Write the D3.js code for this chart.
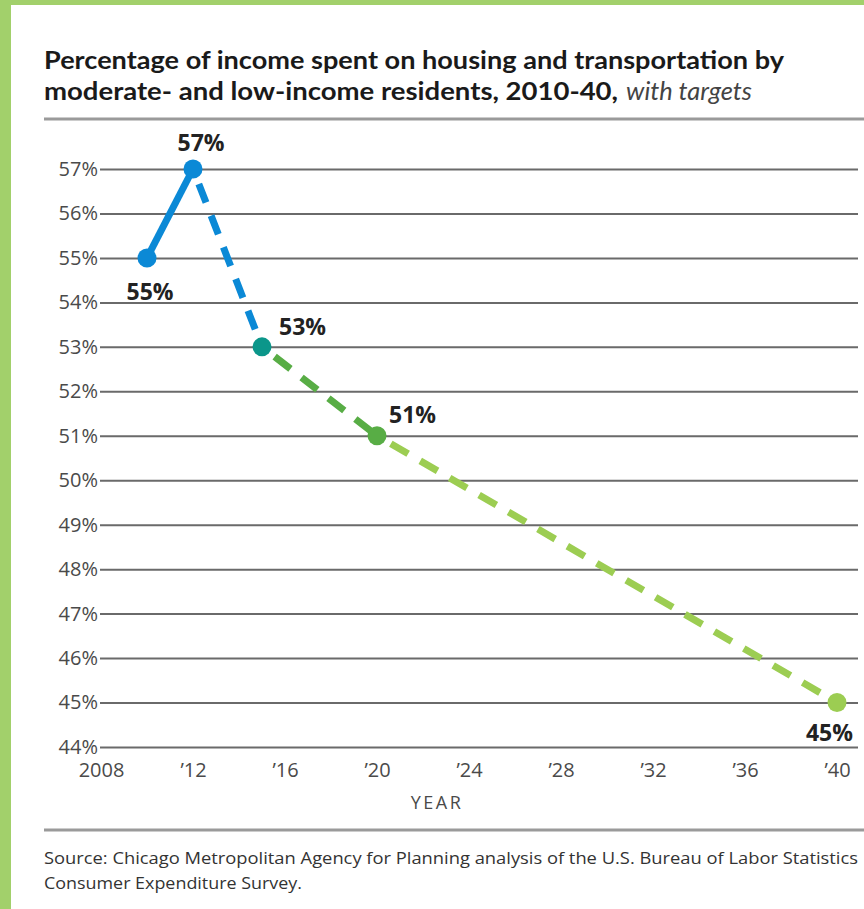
<!DOCTYPE html>
<html>
<head>
<meta charset="utf-8">
<script src="https://cdn.jsdelivr.net/npm/d3@7"></script>
<style>
  html, body { margin: 0; padding: 0; background: #fff; }
  svg { display: block; }
  .grid line { stroke: #6a6a6a; stroke-width: 2; }
  .grid text, .xaxis text { font-family: "Open Sans", sans-serif; font-size: 20px; fill: #4a4a4a; }
  .lbl { font-family: "Open Sans", sans-serif; font-weight: 700; font-size: 23px; fill: #222; }
</style>
</head>
<body>
<div id="chart"></div>
<script>
// data
var years = [2010, 2012, 2015, 2020, 2040];
var values = [55, 57, 53, 51, 45];
var yTicks = [44, 45, 46, 47, 48, 49, 50, 51, 52, 53, 54, 55, 56, 57];
var xTicks = [2008, 2012, 2016, 2020, 2024, 2028, 2032, 2036, 2040];
var xTickLabels = ["2008", "\u201912", "\u201916", "\u201920", "\u201924", "\u201928", "\u201932", "\u201936", "\u201940"];
var segColors = ["#0b89d6", "#0b89d6", "#58ad45", "#9ccd52"];   // segment i goes from point i to i+1
var segDashed = [false, true, true, true];
var dotColors = ["#0b89d6", "#0b89d6", "#0b968a", "#58ad45", "#9ccd52"];

var W = 864, H = 909;
var svg = d3.select("#chart").append("svg").attr("width", W).attr("height", H);

// green frame
svg.append("rect").attr("x", 0).attr("y", 0).attr("width", W).attr("height", 5).attr("fill", "#a2d06b");
svg.append("rect").attr("x", 0).attr("y", 0).attr("width", 11).attr("height", H).attr("fill", "#a2d06b");

// title
var title = svg.append("g").attr("font-family", "Lato, sans-serif").attr("font-size", 25).attr("fill", "#1a1a1a");
title.append("text").attr("x", 44).attr("y", 69).attr("font-weight", 700)
  .attr("textLength", 740).attr("lengthAdjust", "spacingAndGlyphs")
  .text("Percentage of income spent on housing and transportation by");
title.append("text").attr("x", 44).attr("y", 100).attr("font-weight", 700)
  .attr("textLength", 574).attr("lengthAdjust", "spacingAndGlyphs")
  .text("moderate- and low-income residents, 2010-40,");
title.append("text").attr("x", 626).attr("y", 100).attr("font-style", "italic").attr("fill", "#444")
  .attr("textLength", 126).attr("lengthAdjust", "spacingAndGlyphs")
  .text("with targets");

svg.append("line").attr("x1", 44).attr("x2", W).attr("y1", 119).attr("y2", 119)
  .attr("stroke", "#9a9a9a").attr("stroke-width", 3);

// scales
var x = d3.scaleLinear().domain([2008, 2040]).range([101, 837]);
var y = d3.scaleLinear().domain([44, 57]).range([747, 169]);

// gridlines + y labels
var gridG = svg.append("g").attr("class", "grid").attr("transform", "translate(100,0)")
  .call(d3.axisLeft(y).tickValues(yTicks).tickFormat(function(d) { return d + "%"; })
    .tickSize(-(858 - 100)).tickPadding(2));
gridG.select(".domain").remove();

// x axis labels
var xG = svg.append("g").attr("class", "xaxis").attr("transform", "translate(0,747)")
  .call(d3.axisBottom(x).tickValues(xTicks).tickFormat(function(d, i) { return xTickLabels[i]; })
    .tickSize(0).tickPadding(16));
xG.select(".domain").remove();

svg.append("text").attr("x", 437).attr("y", 809).attr("text-anchor", "middle")
  .attr("font-family", "Open Sans, sans-serif").attr("font-size", 18).attr("letter-spacing", 2.5)
  .attr("fill", "#4a4a4a").text("YEAR");

// line segments
for (var i = 0; i < years.length - 1; i++) {
  var x1 = x(years[i]), y1 = y(values[i]), x2 = x(years[i + 1]), y2 = y(values[i + 1]);
  if (segDashed[i]) {
    // leave a little gap after the dot like the original
    var len = Math.hypot(x2 - x1, y2 - y1), ux = (x2 - x1) / len, uy = (y2 - y1) / len;
    x1 += ux * 16; y1 += uy * 16;
  }
  svg.append("line")
    .attr("x1", x1).attr("y1", y1).attr("x2", x2).attr("y2", y2)
    .attr("stroke", segColors[i]).attr("stroke-width", 7)
    .attr("stroke-dasharray", segDashed[i] ? "20,14" : null);
}

// dots
svg.selectAll("circle.pt").data(years).enter().append("circle")
  .attr("class", "pt")
  .attr("cx", function(d) { return x(d); })
  .attr("cy", function(d, i) { return y(values[i]); })
  .attr("r", 9.5)
  .attr("fill", function(d, i) { return dotColors[i]; });

// value labels
var lblPos = [
  {dx: 3, dy: 42, anchor: "middle"},
  {dx: 8, dy: -18, anchor: "middle"},
  {dx: 17, dy: -12, anchor: "start"},
  {dx: 12, dy: -13, anchor: "start"},
  {dx: 16, dy: 38, anchor: "end"}
];
svg.selectAll("text.lbl").data(years).enter().append("text")
  .attr("class", "lbl")
  .attr("x", function(d, i) { return x(d) + lblPos[i].dx; })
  .attr("y", function(d, i) { return y(values[i]) + lblPos[i].dy; })
  .attr("text-anchor", function(d, i) { return lblPos[i].anchor; })
  .text(function(d, i) { return values[i] + "%"; });

// source
svg.append("line").attr("x1", 44).attr("x2", W).attr("y1", 830).attr("y2", 830)
  .attr("stroke", "#9a9a9a").attr("stroke-width", 3);
var src = svg.append("g").attr("font-family", "Open Sans, sans-serif").attr("font-size", 16).attr("fill", "#333");
src.append("text").attr("x", 44).attr("y", 864)
  .attr("textLength", 814).attr("lengthAdjust", "spacingAndGlyphs")
  .text("Source: Chicago Metropolitan Agency for Planning analysis of the U.S. Bureau of Labor Statistics");
src.append("text").attr("x", 44).attr("y", 889)
  .attr("textLength", 258).attr("lengthAdjust", "spacingAndGlyphs")
  .text("Consumer Expenditure Survey.");
</script>
</body>
</html>
